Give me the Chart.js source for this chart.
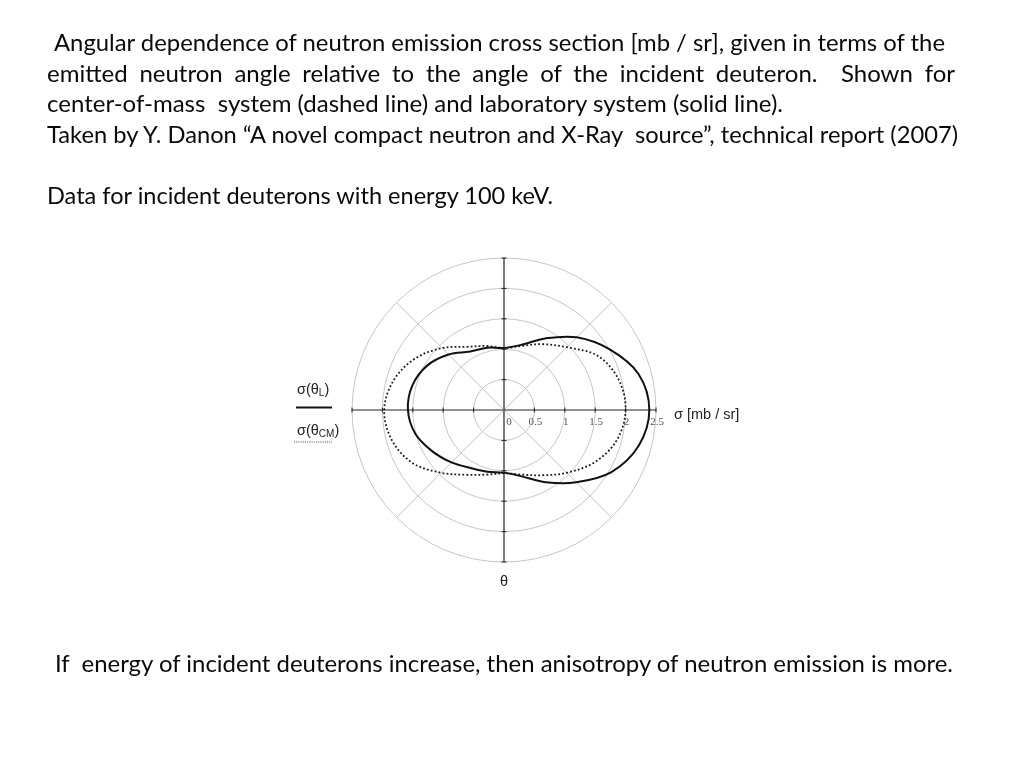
<!DOCTYPE html>
<html>
<head>
<meta charset="utf-8">
<title>Angular dependence of neutron emission cross section</title>
<script src="https://cdn.jsdelivr.net/npm/chart.js@4.4.1/dist/chart.umd.min.js"></script>
<style>
  html, body { margin: 0; padding: 0; background: #fff; }
  body { width: 1024px; height: 768px; position: relative; overflow: hidden; }
  #polar { position: absolute; left: 0; top: 0; }
  .ln { position: absolute; top: 0; font-family: Lato, "Open Sans", sans-serif; font-size: 20px;
        color: #0a0a0a; line-height: 1.2; white-space: pre; transform-origin: 0 0; }
  .ln.j { white-space: normal; text-align: justify; text-align-last: justify; }
  .mk { display: inline-block; width: 0; height: 0; }
</style>
</head>
<body>
<canvas id="polar" width="1024" height="768"></canvas>

<div class="ln j" data-base="51" data-w="891" style="left:54px"><span>Angular dependence of neutron emission cross section [mb / sr], given in terms of the</span><span class="mk"></span></div>
<div class="ln j" data-base="81.5" data-w="908" style="left:47px"><span>emitted neutron angle relative to the angle of the incident deuteron. &nbsp;Shown for</span><span class="mk"></span></div>
<div class="ln" id="refLine" data-base="112" data-w="736" style="left:47px"><span>center-of-mass  system (dashed line) and laboratory system (solid line).</span><span class="mk"></span></div>
<div class="ln" data-base="142.5" data-w="911" style="left:47px"><span>Taken by Y. Danon “A novel compact neutron and X-Ray  source”, technical report (2007)</span><span class="mk"></span></div>
<div class="ln" data-base="203.5" data-w="506" style="left:47px"><span>Data for incident deuterons with energy 100 keV.</span><span class="mk"></span></div>
<div class="ln" data-base="671.5" data-w="898" style="left:55px"><span>If  energy of incident deuterons increase, then anisotropy of neutron emission is more.</span><span class="mk"></span></div>

<script>
// Emission angle (degrees, measured from the forward direction, clockwise on screen)
const angles = [0, 15, 30, 45, 60, 75, 90, 105, 120, 135, 150, 165,
                180, 195, 210, 225, 240, 255, 270, 285, 300, 315, 330, 345];

// sigma(theta_L), laboratory system, mb/sr (solid line)
const sigmaLab = [2.39, 2.29, 2.04, 1.68, 1.37, 1.13, 1.03, 1.05, 1.10, 1.22, 1.36, 1.51,
                  1.58, 1.56, 1.46, 1.29, 1.11, 1.06, 1.02, 1.11, 1.36, 1.69, 2.00, 2.29];

// sigma(theta_CM), center-of-mass system, mb/sr (dotted line)
const sigmaCM = [2.00, 1.92, 1.72, 1.46, 1.24, 1.10, 1.04, 1.10, 1.23, 1.46, 1.74, 1.91,
                 1.97, 1.88, 1.69, 1.44, 1.20, 1.09, 1.02, 1.09, 1.25, 1.46, 1.78, 1.95];

// radial axis
const rMin = 0;
const rMax = 2.5;
const rStep = 0.5;

// --- fit the text lines to the slide widths ---
function fitText() {
  const lines = document.querySelectorAll('.ln');
  const ref = document.getElementById('refLine');
  const refW = ref.firstChild.getBoundingClientRect().width;
  const size = 20 * Number(ref.dataset.w) / refW;
  lines.forEach(el => { el.style.fontSize = size + 'px'; });
  lines.forEach(el => {
    const nat = el.firstChild.getBoundingClientRect().width;
    const target = Number(el.dataset.w);
    if (el.classList.contains('j') && nat <= target) {
      el.style.width = target + 'px';
    } else {
      el.style.transform = 'scaleX(' + (target / nat) + ')';
    }
  });
  lines.forEach(el => {
    const b = el.querySelector('.mk').getBoundingClientRect().top;
    el.style.top = (Number(el.dataset.base) - b) + 'px';
  });
}
fitText();

// indexes of the four main axis spokes (0, 90, 180, 270 deg)
const axisSpokes = angles.map((a, i) => (a % 90 === 0 ? i : -1)).filter(i => i >= 0);

const sansFont = '"Liberation Sans", Arial, sans-serif';

function drawSigma(ctx, x, y, sub) {
  ctx.font = '14.5px ' + sansFont;
  ctx.fillText('σ(θ', x, y);
  let w = ctx.measureText('σ(θ').width;
  ctx.font = '10px ' + sansFont;
  ctx.fillText(sub, x + w, y + 3);
  w += ctx.measureText(sub).width;
  ctx.font = '14.5px ' + sansFont;
  ctx.fillText(')', x + w, y);
}

// axis tick marks, tick labels, axis titles and the hand-made legend
const polarExtras = {
  id: 'polarExtras',
  afterDraw(chart) {
    const r = chart.scales.r;
    const ctx = chart.ctx;
    ctx.save();

    // little tick marks across the main axes
    ctx.strokeStyle = '#222';
    ctx.lineWidth = 1;
    axisSpokes.forEach(i => {
      r.ticks.forEach(t => {
        if (t.value === 0) return;
        const p = r.getPointPositionForValue(i, t.value);
        const nx = -Math.sin(p.angle), ny = Math.cos(p.angle);
        ctx.beginPath();
        ctx.moveTo(p.x - nx * 2.5, p.y - ny * 2.5);
        ctx.lineTo(p.x + nx * 2.5, p.y + ny * 2.5);
        ctx.stroke();
      });
    });

    // tick labels under the forward axis
    ctx.font = '11px "Liberation Serif", "DejaVu Serif", serif';
    ctx.fillStyle = '#555';
    ctx.textAlign = 'center';
    ctx.textBaseline = 'middle';
    r.ticks.forEach(t => {
      const p = r.getPointPositionForValue(0, t.value);
      ctx.fillText(String(t.value), p.x + (t.value === 0 ? 5 : 1), p.y + 12);
    });

    // axis titles
    ctx.fillStyle = '#222';
    ctx.font = '14.5px ' + sansFont;
    const end = r.getPointPositionForValue(0, r.max);
    ctx.textAlign = 'left';
    ctx.fillText('σ [mb / sr]', end.x + 18, end.y + 4.5);
    const bottom = r.getPointPositionForValue(axisSpokes[1], r.max);
    ctx.textAlign = 'center';
    ctx.fillText('θ', bottom.x, bottom.y + 20);

    // legend on the left
    const lx = r.xCenter - 207;
    const ly = r.yCenter;
    ctx.textAlign = 'left';
    drawSigma(ctx, lx, ly - 20, 'L');
    drawSigma(ctx, lx, ly + 21, 'CM');

    const ds = chart.data.datasets;
    ctx.strokeStyle = ds[0].borderColor;
    ctx.lineWidth = 2;
    ctx.beginPath();
    ctx.moveTo(lx - 1, ly - 2.5);
    ctx.lineTo(lx + 35, ly - 2.5);
    ctx.stroke();

    ctx.strokeStyle = '#444';
    ctx.lineWidth = 1;
    ctx.setLineDash([1, 1.2]);
    ctx.beginPath();
    ctx.moveTo(lx - 3, ly + 32);
    ctx.lineTo(lx + 35, ly + 32);
    ctx.stroke();

    ctx.restore();
  }
};

const ctx = document.getElementById('polar').getContext('2d');
const polarChart = new Chart(ctx, {
  type: 'radar',
  data: {
    labels: angles.map(a => a + '°'),
    datasets: [{
      label: 'σ(θL)',
      data: sigmaLab,
      borderColor: '#111',
      backgroundColor: 'transparent',
      borderWidth: 2,
      fill: false,
      pointRadius: 0,
      tension: 0.35
    }, {
      label: 'σ(θCM)',
      data: sigmaCM,
      borderColor: '#1a1a1a',
      backgroundColor: 'transparent',
      borderWidth: 1.8,
      borderDash: [1.8, 2.2],
      fill: false,
      pointRadius: 0,
      tension: 0.35
    }]
  },
  options: {
    responsive: false,
    animation: false,
    layout: { padding: { left: 352, right: 367, top: 258, bottom: 205 } },
    plugins: {
      legend: { display: false },
      tooltip: { enabled: false }
    },
    scales: {
      r: {
        min: rMin,
        max: rMax,
        startAngle: 90,
        ticks: { display: false, stepSize: rStep },
        grid: { circular: true, color: '#c6c6c6', lineWidth: 1 },
        angleLines: {
          color: c => (angles[c.index] % 90 === 0 ? '#222' : '#c6c6c6'),
          lineWidth: c => (angles[c.index] % 90 === 0 ? 1.2 : (angles[c.index] % 45 === 0 ? 1 : 0))
        },
        pointLabels: { display: false }
      }
    }
  },
  plugins: [polarExtras]
});
</script>
</body>
</html>
